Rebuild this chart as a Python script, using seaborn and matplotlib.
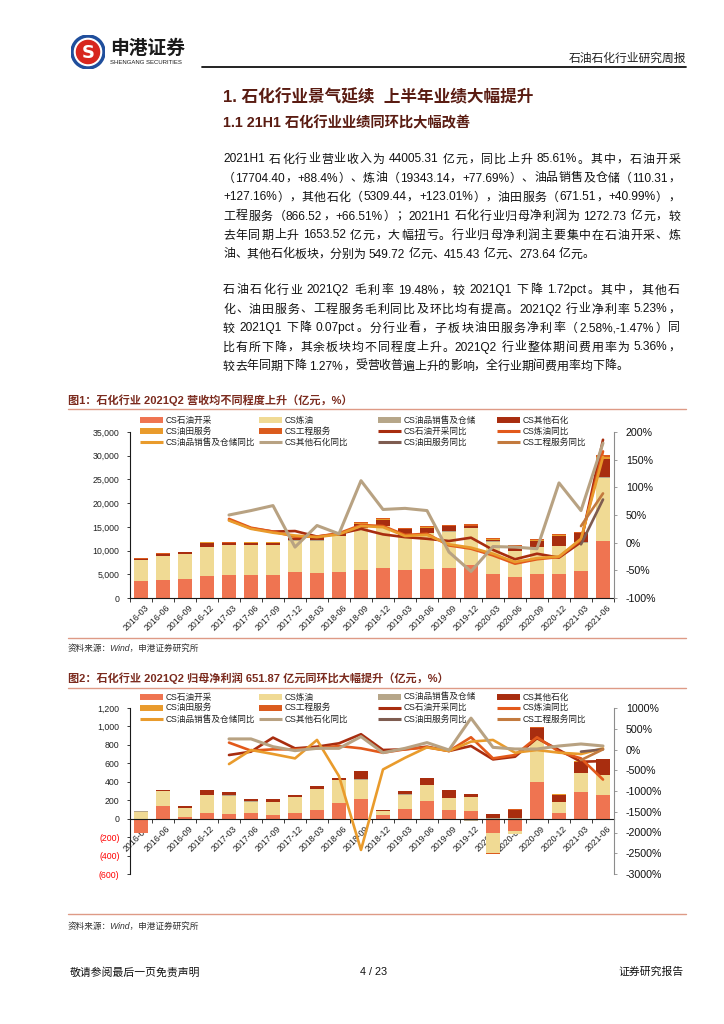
import re
import numpy as np
import pandas as pd
import matplotlib.pyplot as plt
from matplotlib.lines import Line2D
from matplotlib.patches import Circle
import seaborn as sns

sns.set_theme(style='white')
plt.rcParams['font.family'] = ['Liberation Sans', 'Noto Sans CJK SC']
plt.rcParams['axes.unicode_minus'] = False

W, H = 724, 1024
nan = np.nan

quarters = ['2016-03', '2016-06', '2016-09', '2016-12',
            '2017-03', '2017-06', '2017-09', '2017-12',
            '2018-03', '2018-06', '2018-09', '2018-12',
            '2019-03', '2019-06', '2019-09', '2019-12',
            '2020-03', '2020-06', '2020-09', '2020-12',
            '2021-03', '2021-06']
n = len(quarters)

# fig 1: quarterly revenue by sub-sector (亿元)
rev_oil = [3500, 3850, 4060, 4700, 4900, 4830, 4830, 5550, 5330, 5470, 5960,
           6400, 5960, 6100, 6240, 6900, 5110, 4340, 5040, 5110, 5600, 12050]
rev_refine = [4420, 5050, 5190, 6020, 6240, 6240, 6240, 6550, 6790, 7530, 8740,
              8800, 6840, 7560, 7760, 7800, 6790, 5610, 5680, 5890, 6100, 13320]
rev_sales = [30, 30, 30, 35, 30, 30, 30, 35, 30, 30, 35,
             35, 30, 35, 35, 40, 30, 25, 30, 35, 50, 60]
rev_other = [310, 370, 340, 875, 440, 600, 580, 585, 630, 620, 965,
             1195, 1650, 1125, 1045, 350, 400, 925, 1300, 1945, 1870, 3940]
rev_field = [60, 70, 80, 120, 70, 90, 100, 120, 80, 100, 140,
             170, 100, 130, 150, 180, 120, 140, 160, 220, 180, 330]
rev_eng = [80, 90, 100, 150, 90, 110, 120, 160, 100, 120, 160,
           200, 120, 150, 170, 230, 150, 160, 190, 300, 200, 430]

# fig 1: revenue YoY (%)
ryoy_oil = [nan] * 4 + [41, 26, 20, 21, 11, 16, 25, 15, 10, 7, 3, 9, -13, -30, -20, -27, 1, 186]
ryoy_refine = [nan] * 4 + [43, 27, 20, 11, 11, 17, 32, 30, 14, 16, -5, -11, -23, -38, -30, -26, 5, 165]
ryoy_sales = [nan] * 4 + [40, 25, 18, 13, 10, 15, 30, 28, 12, 14, -3, -9, -20, -35, -28, -25, 7, 155]
ryoy_other = [nan] * 4 + [50, 58, 67, -8, 31, 16, 112, 60, 62, 58, -17, -52, -7, -8, -11, 108, 58, 180]
ryoy_field = [nan] * 20 + [-3, 78]
ryoy_eng = [nan] * 20 + [30, 89]

# fig 2: quarterly net profit attributable (亿元)
prof_oil = [-150, 135, 15, 58, 51, 65, 44, 58, 98, 167, 218,
            40, 102, 189, 95, 80, -160, -130, 393, 58, 290, 255]
prof_refine = [70, 163, 101, 200, 200, 120, 134, 175, 222, 248, 204,
               40, 160, 171, 127, 153, -215, -37, 458, 120, 200, 215]
prof_sales = [15, 3, 3, 4, 8, 3, 3, 3, 3, 3, 3,
              3, 3, 3, 3, -30, 8, 10, 3, 3, 3, 3]
prof_other = [3, 12, 23, 50, 25, 28, 30, 22, 35, 25, 95,
              12, 40, 80, 88, 30, 45, 80, 130, 80, 125, 170]
prof_field = [0] * 16 + [0, 5, 3, 4, 2, 4]
prof_eng = [0] * 15 + [6, -10, 10, 5, 4, 1, 5]

# fig 2: profit YoY (%)
pyoy_oil = [nan] * 4 + [-133, -52, 287, 28, 68, 149, 368, -12, 4, 68, -36, 85, -239, -174, 271, -12, -295, -280]
pyoy_refine = [nan] * 4 + [166, -28, 4, 4, 28, 85, 28, -77, 4, 52, -36, 295, -214, -133, 295, -52, -214, -724]
pyoy_sales = [nan] * 4 + [-351, -12, -109, -214, 230, -642, -2420, -481, -200, 52, -36, 190, 230, -77, -12, -77, -109, 28]
pyoy_other = [nan] * 4 + [255, 255, 68, -28, 28, 28, 311, -77, 28, 166, -12, 756, 52, 12, 12, 85, 133, 85]
pyoy_field = [nan] * 20 + [-52, 4]
pyoy_eng = [nan] * 20 + [-255, 4]

legend_labels = ['CS石油开采', 'CS炼油', 'CS油品销售及仓储', 'CS其他石化',
                 'CS油田服务', 'CS工程服务', 'CS石油开采同比', 'CS炼油同比',
                 'CS油品销售及仓储同比', 'CS其他石化同比', 'CS油田服务同比', 'CS工程服务同比']

BAR_COLORS = ['#EF7451', '#F0DA94', '#B6A689', '#A82D0F', '#E99B2C', '#DB5B1D']
LINE_COLORS = ['#A82D0F', '#E2591B', '#E99B2C', '#B8A282', '#7E5C50', '#C37A3E']
TITLE_C = '#5a1c12'
CAP_C = '#7b2b1e'
RULE_C = '#DE9A86'

para1 = ['2021H1 石化行业营业收入为 44005.31 亿元，同比上升 85.61%。其中，石油开采',
         '（17704.40，+88.4%）、炼油（19343.14，+77.69%）、油品销售及仓储（110.31，',
         '+127.16%），其他石化（5309.44，+123.01%），油田服务（671.51，+40.99%），',
         '工程服务（866.52，+66.51%）；2021H1 石化行业归母净利润为 1272.73 亿元，较',
         '去年同期上升 1653.52 亿元，大幅扭亏。行业归母净利润主要集中在石油开采、炼',
         '油、其他石化板块，分别为 549.72 亿元、415.43 亿元、273.64 亿元。']
para2 = ['石油石化行业 2021Q2 毛利率 19.48%，较 2021Q1 下降 1.72pct。其中，其他石',
         '化、油田服务、工程服务毛利同比及环比均有提高。2021Q2 行业净利率 5.23%，',
         '较 2021Q1 下降 0.07pct。分行业看，子板块油田服务净利率（2.58%,-1.47%）同',
         '比有所下降，其余板块均不同程度上升。2021Q2 行业整体期间费用率为 5.36%，',
         '较去年同期下降 1.27%，受营收普遍上升的影响，全行业期间费用率均下降。']

fig = plt.figure(figsize=(W / 100, H / 100), dpi=100)
renderer = fig.canvas.get_renderer()


def fx(x):
    return x / W


def fy(y):
    return 1 - y / H


def hline(x0, x1, y, color, lw):
    fig.add_artist(Line2D([fx(x0), fx(x1)], [fy(y), fy(y)], color=color, lw=lw))


def advance(tok, size):
    t = fig.text(0, 0, '|' + tok + '|', fontsize=size)
    w1 = t.get_window_extent(renderer).width
    t.set_text('||')
    w0 = t.get_window_extent(renderer).width
    t.remove()
    return w1 - w0


def body_line(s, y, size=8.6, x0=223, x1=680, justify=True):
    parts = re.findall(r'(\s*)([0-9A-Za-z.%+,\-]+|\S)', s)
    sp = advance(' ', size)
    widths = [advance(tok, size) for _, tok in parts]
    gaps = [sp if pre else 0 for pre, _ in parts]
    natural = sum(widths) + sum(gaps[1:])
    extra = (x1 - x0 - natural) / (len(parts) - 1) if justify else 0
    x = x0
    for i, (pre, tok) in enumerate(parts):
        if i > 0:
            x += gaps[i] + extra
        fig.text(fx(x), fy(y + 4.5), tok, fontsize=size, ha='left',
                 va='baseline', color='#111111')
        x += widths[i]


def stacked_bars(ax, segments):
    pos = np.zeros(n)
    neg = np.zeros(n)
    for vals, c in zip(segments, BAR_COLORS):
        v = np.asarray(vals, dtype=float)
        base = np.where(v >= 0, pos, neg)
        sns.barplot(x=quarters, y=v, bottom=base, color=c, saturation=1,
                    width=0.6, errorbar=None, linewidth=0, ax=ax)
        pos += np.where(v >= 0, v, 0)
        neg += np.where(v < 0, v, 0)


def draw_legend(rows_y):
    colors = BAR_COLORS + LINE_COLORS
    for i, (lab, c) in enumerate(zip(legend_labels, colors)):
        r, col = divmod(i, 4)
        x = 140 + col * 119
        y = rows_y[r]
        lw = 4.3 if i < 6 else 2.2
        fig.add_artist(Line2D([fx(x), fx(x + 23)], [fy(y), fy(y)], color=c,
                              lw=lw, solid_capstyle='butt'))
        fig.text(fx(x + 26), fy(y), lab, fontsize=6.2, va='center', ha='left',
                 color='#222222')


def chart(top, bottom, segments, yoy, ylim, yticks, ylabels, rlim, rticks,
          zero_axis=False):
    ax = fig.add_axes([fx(130), fy(bottom), 484 / W, (bottom - top) / H])
    ax.set_facecolor('none')
    stacked_bars(ax, segments)
    ax2 = ax.twinx()
    for i, (vals, c) in enumerate(zip(yoy, LINE_COLORS)):
        sns.lineplot(x=np.arange(n), y=np.asarray(vals, dtype=float), color=c,
                     lw=2.2 if i == 3 else 1.9, ax=ax2)
    ax.set_xlim(-0.5, n - 0.5)
    ax.set_ylim(*ylim)
    ax2.set_ylim(*rlim)
    for a in (ax, ax2):
        a.set_xlabel('')
        a.set_ylabel('')
        a.grid(False)

    for s in ('top', 'right'):
        ax.spines[s].set_visible(False)
    for s in ('top', 'left', 'bottom'):
        ax2.spines[s].set_visible(False)
    ax.spines['left'].set_color('k')
    ax.spines['left'].set_linewidth(0.8)
    ax.spines['bottom'].set_color('k')
    ax.spines['bottom'].set_linewidth(0.8)
    ax2.spines['right'].set_color('#8c8c8c')
    ax2.spines['right'].set_linewidth(0.8)
    if zero_axis:
        ax.spines['bottom'].set_position(('data', 0))

    ax.set_yticks(yticks, labels=ylabels)
    for lab, v in zip(ax.get_yticklabels(), yticks):
        lab.set_color('#FF0000' if v < 0 else '#222222')
    ax.tick_params(axis='y', left=True, length=2.5, width=0.6, color='k',
                   labelsize=6.3, pad=5)
    ax2.set_yticks(rticks, labels=[f'{v}%' for v in rticks])
    ax2.tick_params(axis='y', right=True, length=2.5, width=0.6, color='#8c8c8c',
                    labelsize=7.7, pad=6, labelcolor='#111111')

    ax.set_xticks(np.arange(n) + 0.14, labels=quarters, rotation=45, ha='right',
                  va='top', rotation_mode='anchor', fontsize=6.3, color='#222222')
    ax.set_xticks(np.arange(n + 1) - 0.5, minor=True)
    ax.tick_params(axis='x', which='major', bottom=True, length=0, pad=4)
    ax.tick_params(axis='x', which='minor', bottom=True, length=3, width=0.6,
                   color='k')
    return ax, ax2


# ---- header ----
ax_logo = fig.add_axes([fx(71), fy(69), 34 / W, 34 / H])
ax_logo.set_xlim(-1, 1)
ax_logo.set_ylim(-1, 1)
ax_logo.set_aspect('equal')
ax_logo.axis('off')
ax_logo.add_patch(Circle((0, 0), 1.0, color='#1f4e9c'))
ax_logo.add_patch(Circle((0, 0), 0.80, color='white'))
ax_logo.add_patch(Circle((0, 0), 0.68, color='#d7261e'))
ax_logo.text(0, -0.05, 'S', color='white', fontsize=13, fontweight='bold',
             ha='center', va='center', family=['DejaVu Sans'])
fig.text(fx(110), fy(49), '申港证券', fontsize=13.5, fontweight='bold',
         color='#1a1a1a', ha='left', va='center')
fig.text(fx(110), fy(63), 'SHENGANG SECURITIES', fontsize=4.3, color='#1a1a1a',
         ha='left', va='center')
fig.text(fx(686), fy(59), '石油石化行业研究周报', fontsize=8.5, color='#222222',
         ha='right', va='center')
hline(202, 686, 67, '#111111', 1.3)

fig.text(fx(223), fy(97), '1. 石化行业景气延续  上半年业绩大幅提升', fontsize=12,
         fontweight='bold', color=TITLE_C, ha='left', va='center')
fig.text(fx(223), fy(123), '1.1 21H1 石化行业业绩同环比大幅改善', fontsize=10.3,
         fontweight='bold', color=TITLE_C, ha='left', va='center')

for i, s in enumerate(para1):
    body_line(s, 158 + i * 19, justify=i < len(para1) - 1)
for i, s in enumerate(para2):
    body_line(s, 289 + i * 19, justify=i < len(para2) - 1)

# ---- figure 1 ----
fig.text(fx(68), fy(400), '图1：石化行业 2021Q2 营收均不同程度上升（亿元，%）',
         fontsize=8, fontweight='bold', color=CAP_C, ha='left', va='center')
hline(68, 686, 409, RULE_C, 1.0)
draw_legend([420, 431, 442])
chart(432, 598,
      [rev_oil, rev_refine, rev_sales, rev_other, rev_field, rev_eng],
      [ryoy_oil, ryoy_refine, ryoy_sales, ryoy_other, ryoy_field, ryoy_eng],
      (0, 35000), list(range(0, 35001, 5000)),
      [f'{v:,}' for v in range(0, 35001, 5000)],
      (-100, 200), list(range(-100, 201, 50)))
hline(68, 686, 638, RULE_C, 1.0)
fig.text(fx(68), fy(648), '资料来源：Wind，申港证券研究所', fontsize=6.2,
         style='italic', color='#333333', ha='left', va='center')

# ---- figure 2 ----
fig.text(fx(68), fy(678), '图2：石化行业 2021Q2 归母净利润 651.87 亿元同环比大幅提升（亿元，%）',
         fontsize=8, fontweight='bold', color=CAP_C, ha='left', va='center')
hline(68, 686, 688, RULE_C, 1.0)
draw_legend([697, 707.5, 719])
p_ticks = list(range(-600, 1201, 200))
p_labels = [f'{v:,}' if v >= 0 else f'({abs(v)})' for v in p_ticks]
chart(708, 874,
      [prof_oil, prof_refine, prof_sales, prof_other, prof_field, prof_eng],
      [pyoy_oil, pyoy_refine, pyoy_sales, pyoy_other, pyoy_field, pyoy_eng],
      (-600, 1200), p_ticks, p_labels,
      (-3000, 1000), list(range(-3000, 1001, 500)), zero_axis=True)
hline(68, 686, 914, RULE_C, 1.0)
fig.text(fx(68), fy(926), '资料来源：Wind，申港证券研究所', fontsize=6.2,
         style='italic', color='#333333', ha='left', va='center')

# ---- footer ----
fig.text(fx(70), fy(972), '敬请参阅最后一页免责声明', fontsize=7.8, color='#111111',
         ha='left', va='center')
fig.text(fx(374), fy(972), '4 / 23', fontsize=7.8, color='#111111',
         ha='center', va='center')
fig.text(fx(684), fy(972), '证券研究报告', fontsize=7.8, color='#111111',
         ha='right', va='center')

fig.savefig('out.png', dpi=100)
